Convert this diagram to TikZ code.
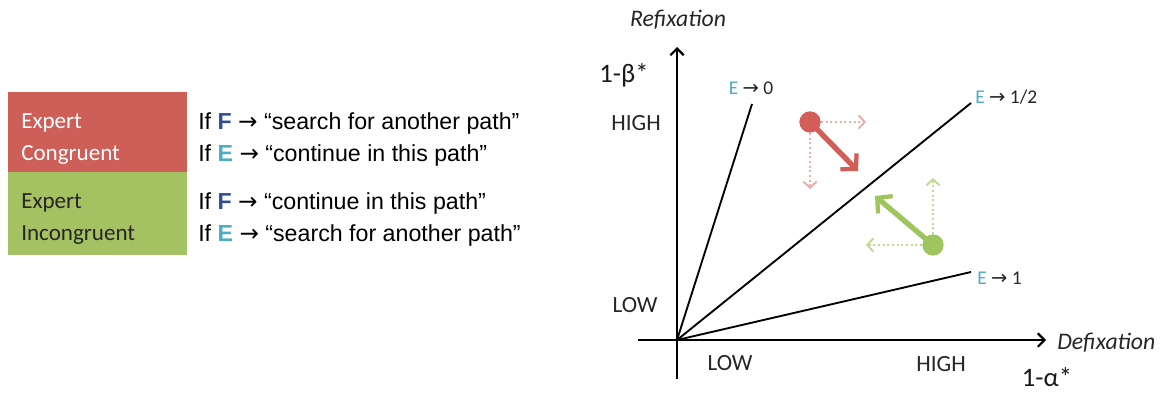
\documentclass[tikz,border=0pt]{standalone}
\usepackage{fontspec}
\setmainfont{Carlito}
\newfontfamily\arial{Liberation Sans}
\newfontfamily\dejavu{DejaVu Sans}
\usetikzlibrary{arrows.meta}
\definecolor{boxred}{RGB}{205,95,88}
\definecolor{boxgreen}{RGB}{165,194,98}
\definecolor{fblue}{RGB}{47,82,143}
\definecolor{ecyan}{RGB}{75,172,198}
\definecolor{arrred}{RGB}{211,94,88}
\definecolor{arrgreen}{RGB}{160,196,94}
\newcommand{\rarr}{{\dejavu →}}
\begin{document}
\begin{tikzpicture}[x=0.75pt,y=-0.75pt,
  boxtxt/.style={anchor=west,inner sep=0pt,font=\fontsize{17.3}{19}\selectfont},
  ruletxt/.style={anchor=west,inner sep=0pt,font=\arial\fontsize{17.4}{19}\selectfont},
  axlbl/.style={inner sep=0pt,font=\fontsize{17.4}{19}\selectfont,text=black!85},
  elbl/.style={inner sep=0pt,font=\fontsize{14.6}{16}\selectfont,text=black!85},
  axis/.style={line width=2.2pt,-{Straight Barb[length=5pt,width=10pt,line width=1.6pt]}},
  ray/.style={line width=1.4pt},
  bigarr/.style={line width=4pt,-{Straight Barb[length=8pt,width=17pt,line width=3.2pt]}},
  dotarr/.style={line width=1.5pt,dotted,-{Straight Barb[length=4.5pt,width=10pt,line width=1.5pt,sep=0pt]}},
  dot/.style={circle,inner sep=0pt,minimum size=16pt}
]
\useasboundingbox (0,0) rectangle (1163,393);
% left panel
\node[fill=boxred,minimum width=179*0.75pt,minimum height=80*0.75pt,anchor=north west,inner sep=0pt] (rbox) at (8,92) {};
\node[fill=boxgreen,minimum width=179*0.75pt,minimum height=83*0.75pt,anchor=north west,inner sep=0pt] (gbox) at (8,172) {};
\node[boxtxt,text=white] (e1) at (21,123) {Expert};
\node[boxtxt,text=white] (c1) at (21,155) {Congruent};
\node[boxtxt,text=black!85] (e2) at (21,203) {Expert};
\node[boxtxt,text=black!85] (c2) at (21,235) {Incongruent};
\newcommand{\Fl}{\textcolor{fblue}{\bfseries F}}
\newcommand{\El}{\textcolor{ecyan}{\bfseries E}}
\node[ruletxt] (r1) at (198,123) {If \Fl{} \rarr{} “search for another path”};
\node[ruletxt] (r2) at (198,155) {If \El{} \rarr{} “continue in this path”};
\node[ruletxt] (r3) at (198,203) {If \Fl{} \rarr{} “continue in this path”};
\node[ruletxt] (r4) at (198,235) {If \El{} \rarr{} “search for another path”};
% axes
\coordinate (O) at (677,340);
\coordinate (ybot) at (677,379);
\coordinate (ytop) at (677,47);
\coordinate (xleft) at (638,340);
\coordinate (xright) at (1046,340);
\draw[line width=2.2pt] (O) -- (ybot);
\draw[axis] (O) -- (ytop);
\draw[line width=2.2pt] (O) -- (xleft);
\draw[axis] (O) -- (xright);
\coordinate (r0) at (752,104);
\coordinate (rh) at (971,103);
\coordinate (r1e) at (971,272);
\draw[ray] (O) -- (r0);
\draw[ray] (O) -- (rh);
\draw[ray] (O) -- (r1e);
\node[elbl] (l0) at (751,88) {\textcolor{ecyan}{E} \rarr{} 0};
\node[elbl,anchor=west] (lh) at (975,97) {\textcolor{ecyan}{E} \rarr{} 1/2};
\node[elbl,anchor=west] (l1) at (977,278) {\textcolor{ecyan}{E} \rarr{} 1};
% axis labels
\node[inner sep=0pt,font=\itshape\fontsize{17.8}{19}\selectfont,text=black!85] (refx) at (678,20) {Refixation};
\node[inner sep=0pt,font=\itshape\fontsize{17.8}{19}\selectfont,text=black!85,anchor=west] (defx) at (1057,343) {Defixation};
\node[inner sep=0pt,font=\fontsize{20}{22}\selectfont,text=black!90] (beta) at (624,75) {1-β*};
\node[inner sep=0pt,font=\fontsize{20}{22}\selectfont,text=black!90] (alpha) at (1047,377) {1-α*};
\node[axlbl] (yhigh) at (636,123) {HIGH};
\node[axlbl] (ylow) at (635,305) {LOW};
\node[axlbl] (xlow) at (730,363) {LOW};
\node[axlbl] (xhigh) at (941,364) {HIGH};
% red vector
\node[dot,fill=arrred] (rdot) at (810,122) {};
\coordinate (rend) at (858,171);
\coordinate (rhx) at (866,122);
\coordinate (rvy) at (810,189);
\draw[dotarr,draw=arrred!50] (rdot.east) -- (rhx);
\draw[dotarr,draw=arrred!50] (rdot.south) -- (rvy);
\draw[bigarr,draw=arrred] (rdot.center) -- (rend);
% green vector
\node[dot,fill=arrgreen] (gdot) at (933,245) {};
\coordinate (gend) at (875,196);
\coordinate (ghx) at (866,245);
\coordinate (gvy) at (933,178);
\draw[dotarr,draw=arrgreen!65] (gdot.west) -- (ghx);
\draw[dotarr,draw=arrgreen!65] (gdot.north) -- (gvy);
\draw[bigarr,draw=arrgreen] (gdot.center) -- (gend);
\end{tikzpicture}
\end{document}
